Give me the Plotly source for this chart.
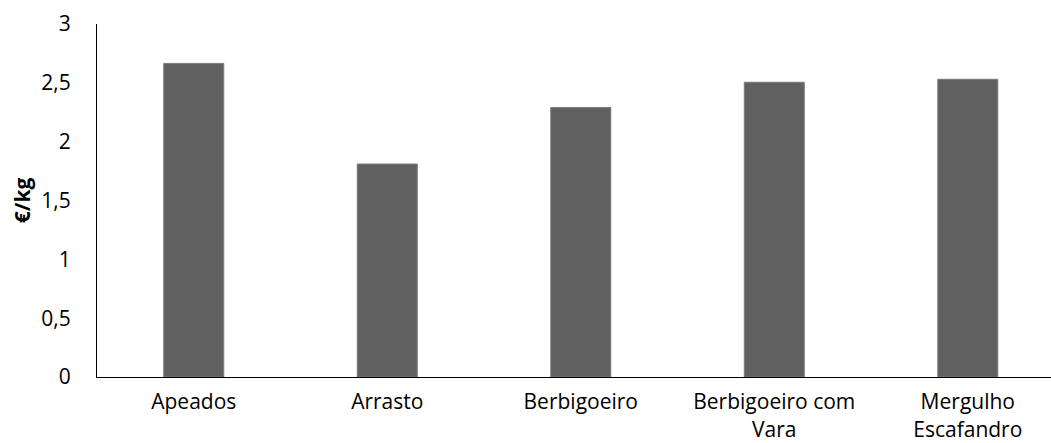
import plotly.graph_objects as go

categories = ["Apeados", "Arrasto", "Berbigoeiro", "Berbigoeiro com<br>Vara", "Mergulho<br>Escafandro"]
price_eur_kg = [2.665, 1.81, 2.29, 2.505, 2.53]
y_ticks = [0, 0.5, 1, 1.5, 2, 2.5, 3]
y_tick_text = ["0", "0,5", "1", "1,5", "2", "2,5", "3"]

font_family = "Open Sans, Lato, sans-serif"
font_size = 21

fig = go.Figure(
    go.Bar(
        x=list(range(len(categories))),
        y=price_eur_kg,
        width=0.31,
        marker=dict(color="#606060", line=dict(color="#7a7a7a", width=1)),
    )
)

fig.update_layout(
    width=1051,
    height=443,
    margin=dict(l=97, r=0, t=24, b=66),
    paper_bgcolor="white",
    plot_bgcolor="white",
    showlegend=False,
    font=dict(family=font_family, size=font_size, color="#000000"),
)

fig.update_xaxes(
    range=[-0.5, 4.43],
    automargin=False,
    tickmode="array",
    tickvals=list(range(len(categories))),
    ticktext=categories,
    showline=True,
    linecolor="#000000",
    linewidth=1,
    showgrid=False,
    zeroline=False,
    ticks="",
    ticklabelstandoff=6,
    tickfont=dict(family=font_family, size=font_size, color="#000000"),
)

fig.update_yaxes(
    range=[0, 3],
    automargin=False,
    tickmode="array",
    tickvals=y_ticks,
    ticktext=y_tick_text,
    showline=True,
    linecolor="#000000",
    linewidth=1,
    showgrid=False,
    zeroline=False,
    ticks="",
    ticklabelstandoff=21,
    tickfont=dict(family=font_family, size=font_size, color="#000000"),
    title=dict(text="<b>€/kg</b>", font=dict(family=font_family, size=font_size, color="#000000"), standoff=4),
)

fig.write_html("out.html")
